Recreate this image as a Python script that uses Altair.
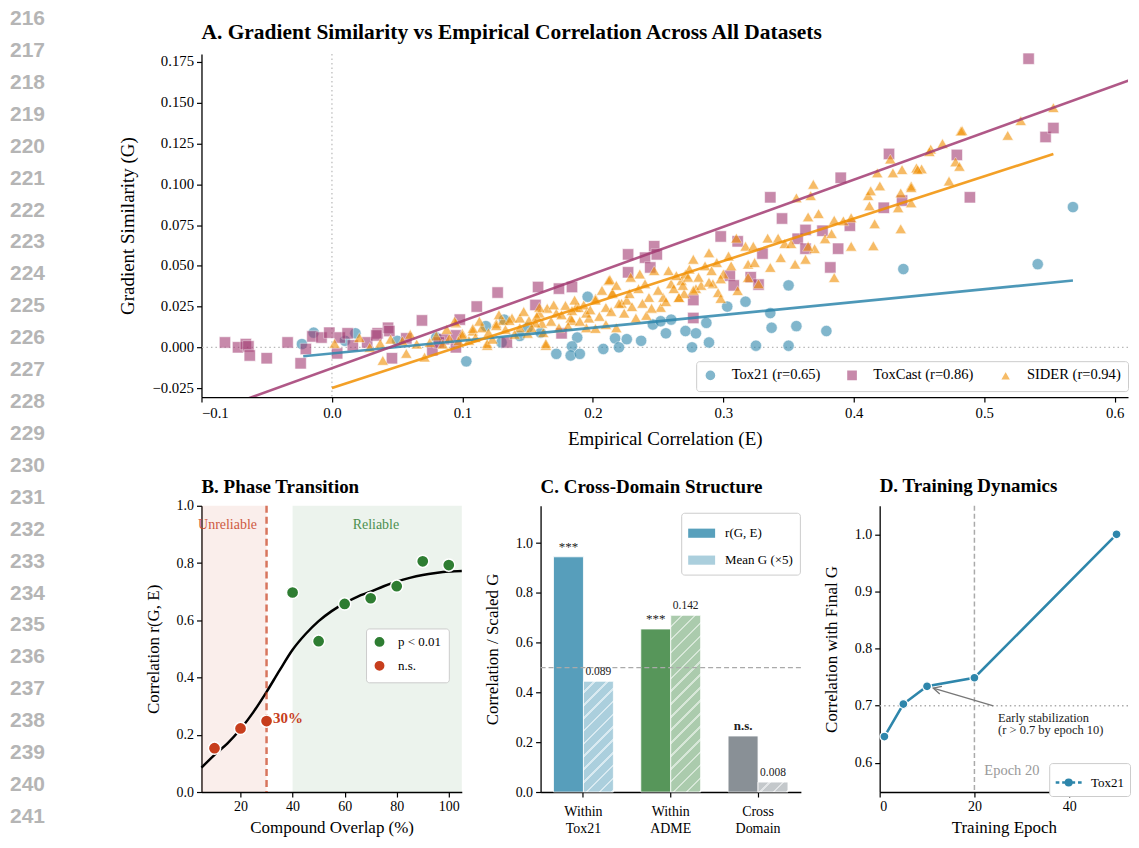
import math
import altair as alt
import pandas as pd

SERIF = "Liberation Serif"
SANS = "Liberation Sans"

# ---------------- line numbers (page margin) ----------------
line_numbers = list(range(216, 243))

# ---------------- Panel A data ----------------
series_names = ["Tox21 (r=0.65)", "ToxCast (r=0.86)", "SIDER (r=0.94)"]
series_colors = ["#2E86AB", "#A23B72", "#F18F01"]

tox21_E = [-0.023, -0.014, 0.018, 0.010, 0.05, 0.08, 0.103, 0.118, 0.132, 0.130, 0.144, 0.15, 0.16,
           0.196, 0.188, 0.184, 0.172, 0.183, 0.190, 0.208, 0.217, 0.220, 0.226, 0.237, 0.246, 0.252,
           0.256, 0.260, 0.271, 0.276, 0.279, 0.289, 0.287, 0.303, 0.317, 0.336, 0.337, 0.350, 0.356,
           0.379, 0.325, 0.350, 0.438, 0.541, 0.568]
tox21_G = [0.002, 0.009, 0.0086, 0.004, 0.004, 0.006, -0.0086, 0.013, 0.017, 0.003, 0.007, 0.012, 0.009,
           0.031, 0.006, 0.0006, -0.004, -0.005, -0.004, -0.001, 0.0055, 0.0, 0.005, 0.004, 0.014, 0.016,
           0.0086, 0.017, 0.010, 0.0, 0.0086, 0.003, 0.015, 0.025, 0.028, 0.021, 0.012, 0.038, 0.013,
           0.010, 0.001, 0.001, 0.048, 0.051, 0.086]

toxcast_E = [-0.082, -0.072, -0.066, -0.064, -0.063, -0.050, -0.034, -0.024, -0.020, -0.015, -0.008,
             -0.002, 0.004, 0.006, 0.012, 0.016, 0.027, 0.035, 0.043, 0.046, 0.057, 0.069, 0.077, 0.086,
             0.095, 0.098, 0.111, 0.127, 0.158, 0.174, 0.184, 0.156, 0.176, 0.134, 0.044, 0.034, 0.095,
             0.082, 0.227, 0.227, 0.247, 0.249, 0.240, 0.244, 0.277, 0.277, 0.298, 0.311, 0.336, 0.345,
             0.305, 0.321, 0.308, 0.327, 0.330, 0.357, 0.363, 0.363, 0.376, 0.397, 0.388, 0.382, 0.390,
             0.423, 0.437, 0.427, 0.479, 0.489, 0.534, 0.547, 0.553]
toxcast_G = [0.003, 0.0, 0.002, 0.0006, -0.005, -0.0067, 0.003, -0.0098, -0.001, 0.0067, 0.006,
             0.009, -0.0037, 0.006, 0.0086, 0.0012, 0.003, 0.0086, 0.012, -0.0067, 0.0055, 0.0165, -0.0018, 0.005,
             0.0073, 0.017, 0.025, 0.0336, 0.037, 0.036, 0.037, 0.026, 0.0086, 0.003, 0.010, 0.0073, 0.0,
             0.003, 0.057, 0.046, 0.062, 0.057, 0.055, 0.049, 0.029, 0.018, 0.068, 0.065, 0.092, 0.079,
             0.044, 0.043, 0.038, 0.0385, 0.0575, 0.0666, 0.072, 0.0605, 0.0715, 0.0746, 0.0605, 0.049, 0.104,
             0.0856, 0.090, 0.1186, 0.118, 0.092, 0.177, 0.129, 0.1345]

sider_E = [0.002, 0.021, 0.039, 0.057, 0.071, 0.054, 0.037, 0.029, 0.075, 0.095, 0.090, 0.100, 0.108,
           0.115, 0.119, 0.126, 0.131, 0.138, 0.144, 0.151, 0.159, 0.164, 0.179, 0.187, 0.202, 0.212,
           0.215, 0.222, 0.184, 0.197, 0.161, 0.105,
           0.094, 0.100, 0.108, 0.119, 0.126, 0.136, 0.150, 0.156, 0.165, 0.164, 0.172, 0.183, 0.189,
           0.195, 0.202, 0.210, 0.213, 0.215, 0.220, 0.226, 0.229, 0.233, 0.235, 0.236, 0.241, 0.243,
           0.247, 0.252, 0.254, 0.258, 0.260, 0.266, 0.268, 0.271, 0.277, 0.279, 0.195, 0.202, 0.218,
           0.184, 0.174, 0.144, 0.159,
           0.045, 0.06, 0.065, 0.08, 0.085, 0.088, 0.097, 0.11, 0.113, 0.12, 0.123, 0.128, 0.133, 0.14,
           0.147, 0.153, 0.157, 0.162, 0.168, 0.17, 0.176, 0.181, 0.186, 0.19, 0.193, 0.198, 0.205, 0.207,
           0.21, 0.214, 0.218, 0.224, 0.228, 0.23, 0.238, 0.24, 0.245, 0.25, 0.256, 0.262, 0.264, 0.27,
           0.274, 0.283, 0.286, 0.292, 0.295, 0.3, 0.306,
           0.289, 0.291, 0.298, 0.304, 0.310, 0.311, 0.317, 0.319, 0.323, 0.324, 0.327, 0.334, 0.336,
           0.342, 0.344, 0.347, 0.352, 0.355, 0.356, 0.363, 0.365, 0.369, 0.367, 0.370, 0.373, 0.378,
           0.383, 0.385, 0.392, 0.398, 0.398, 0.411, 0.412, 0.413, 0.416, 0.415, 0.418, 0.420, 0.428,
           0.430, 0.434, 0.436, 0.436, 0.444, 0.444, 0.448, 0.452, 0.459, 0.385, 0.365, 0.319, 0.296,
           0.289, 0.269, 0.277, 0.273, 0.281, 0.266, 0.298,
           0.437, 0.449, 0.444, 0.473, 0.458, 0.468, 0.482, 0.483, 0.478, 0.481, 0.518, 0.528, 0.553]
sider_G = [0.0024, 0.006, -0.008, -0.0037, -0.006, 0.004, 0.0024, 0.0, 0.003, 0.015, 0.0055, 0.0086, 0.010,
           0.012, 0.0012, 0.0147, 0.0165, 0.018, 0.018, 0.0165, 0.021, 0.0012, 0.0257, 0.0245, 0.030, 0.041,
           0.033, 0.027, 0.0165, 0.018, 0.0147, 0.0043,
           0.016, 0.0073, 0.0116, 0.0024, 0.0134, 0.0165, 0.0086, 0.015, 0.024, 0.0024, 0.021, 0.018, 0.0245,
           0.021, 0.029, 0.0245, 0.0416, 0.0336, 0.027, 0.029, 0.043, 0.018, 0.036, 0.045, 0.0196, 0.0306,
           0.047, 0.0245, 0.0306, 0.047, 0.039, 0.0306, 0.041, 0.045, 0.054, 0.036, 0.012, 0.0116, 0.012,
           0.0226, 0.012, 0.012, 0.0245,
           0.005, 0.008, 0.002, 0.007, 0.002, 0.011, 0.004, 0.006, 0.016, 0.009, 0.005, 0.02, 0.011, 0.008,
           0.022, 0.012, 0.019, 0.009, 0.016, 0.026, 0.02, 0.013, 0.029, 0.016, 0.026, 0.023, 0.019, 0.035,
           0.014, 0.022, 0.038, 0.021, 0.033, 0.025, 0.027, 0.039, 0.024, 0.035, 0.028, 0.036, 0.044, 0.033,
           0.048, 0.038, 0.05, 0.039, 0.052, 0.045, 0.05,
           0.058, 0.047, 0.042, 0.056, 0.067, 0.0348, 0.062, 0.051, 0.062, 0.052, 0.039, 0.067, 0.049,
           0.067, 0.055, 0.0636, 0.0636, 0.051, 0.0917, 0.054, 0.080, 0.100, 0.093, 0.0605, 0.082, 0.0666,
           0.0697, 0.078, 0.0776, 0.062, 0.0795, 0.093, 0.0868, 0.096, 0.0758, 0.0623, 0.107, 0.099, 0.1155,
           0.107, 0.0856, 0.0727, 0.0947, 0.099, 0.0886, 0.110, 0.1094, 0.1216, 0.0428, 0.062, 0.0428, 0.0336,
           0.040, 0.038, 0.035, 0.043, 0.043, 0.0306, 0.030,
           0.109, 0.109, 0.098, 0.102, 0.120, 0.125, 0.1326, 0.133, 0.1137, 0.111, 0.130, 0.139, 0.147]

# regression lines (start / end points)
fit_E0 = [-0.022, -0.1, 0.0]
fit_G0 = [-0.0055, -0.0417, -0.0249]
fit_E1 = [0.568, 0.617, 0.553]
fit_G1 = [0.041, 0.1655, 0.1186]

# ---------------- Panel B data ----------------
overlap = [10, 20, 30, 40, 50, 60, 70, 80, 90, 100]
overlap_r = [0.153, 0.222, 0.248, 0.697, 0.527, 0.657, 0.677, 0.719, 0.806, 0.793]
overlap_sig = ["n.s.", "n.s.", "n.s.", "p < 0.01", "p < 0.01", "p < 0.01", "p < 0.01", "p < 0.01",
               "p < 0.01", "p < 0.01"]
curve_x = [5, 10, 15, 20, 25, 30, 35, 40, 45, 50, 55, 60, 65, 70, 75, 80, 85, 90, 95, 100, 105]
curve_y = [0.085, 0.13, 0.17, 0.22, 0.28, 0.35, 0.425, 0.497, 0.552, 0.597, 0.632, 0.66, 0.683, 0.70,
           0.719, 0.735, 0.748, 0.758, 0.765, 0.77, 0.772]
zone_start = [5, 40]
zone_end = [30, 105]
zone_color = ["#C73E1D", "#2E7D32"]
threshold = 30

# ---------------- Panel C data ----------------
c_categories = ["Within Tox21", "Within ADME", "Cross Domain"]
c_r = [0.945, 0.655, 0.225]
c_meanG = [0.089, 0.142, 0.008]
c_sig = ["***", "***", "n.s."]
c_colors = ["#2E86AB", "#2E7D32", "#6C757D"]
c_hatch_base = ["#abcfdd", "#abcbad", "#c4c8cb"]
c_hatch_line = ["#d9eaf1", "#d7e7d8", "#e3e5e7"]
c_scale = 5

# ---------------- Panel D data ----------------
epochs = [1, 5, 10, 20, 50]
epoch_corr = [0.646, 0.703, 0.734, 0.749, 1.0]

# ======================================================================
A_W, A_H = 929, 344
P_H = 287
TOP_GAP = 45          # from top of page content to top of panel A plot
LN_H = 832            # height of the line-number column (page y 8 .. 840)

# ---- Panel A
rows = []
for name, Es, Gs in zip(series_names, [tox21_E, toxcast_E, sider_E], [tox21_G, toxcast_G, sider_G]):
    for e, g in zip(Es, Gs):
        rows.append({"dataset": name, "E": e, "G": g})
dfA = pd.DataFrame(rows)

fit_rows = []
for i, name in enumerate(series_names):
    fit_rows.append({"dataset": name, "E": fit_E0[i], "G": fit_G0[i], "col": series_colors[i]})
    fit_rows.append({"dataset": name, "E": fit_E1[i], "G": fit_G1[i], "col": series_colors[i]})
dfFit = pd.DataFrame(fit_rows)

MINUS = "\u2212"
xA = alt.X("E:Q", scale=alt.Scale(domain=[-0.1, 0.6102], nice=False, zero=False),
           axis=alt.Axis(values=[-0.1, 0.0, 0.1, 0.2, 0.3, 0.4, 0.5, 0.6],
                         labelExpr=f"replace(format(datum.value, '.1f'), '-', '{MINUS}')",
                         title="Empirical Correlation (E)", titleFontSize=19, labelFontSize=14.8,
                         titlePadding=10))
yA = alt.Y("G:Q", scale=alt.Scale(domain=[-0.0305, 0.1799], nice=False, zero=False),
           axis=alt.Axis(values=[-0.025, 0.0, 0.025, 0.05, 0.075, 0.1, 0.125, 0.15, 0.175],
                         labelExpr=f"replace(format(datum.value, '.3f'), '-', '{MINUS}')",
                         title="Gradient Similarity (G)", titleFontSize=19, labelFontSize=14.8,
                         titlePadding=15))

zeroA = pd.DataFrame({"E": [0.0], "G": [0.0]})
refH = alt.Chart(zeroA).mark_rule(color="#b8b8b8", strokeDash=[1.5, 3], strokeWidth=1.2).encode(y=yA)
refV = alt.Chart(zeroA).mark_rule(color="#b8b8b8", strokeDash=[1.5, 3], strokeWidth=1.2).encode(x=xA)

legA = alt.Legend(title=None, orient="none", legendX=496, legendY=308, direction="horizontal",
                  fillColor="white", strokeColor="#cccccc", cornerRadius=3, padding=7, gridAlign="none",
                  labelFont=SERIF, labelFontSize=14.6, labelColor="black", symbolSize=125,
                  symbolOpacity=0.6, columnPadding=22, labelOffset=14)
ptsA = alt.Chart(dfA).mark_point(filled=True, size=130, opacity=0.6, stroke="white", strokeWidth=0.6).encode(
    x=xA, y=yA,
    color=alt.Color("dataset:N", scale=alt.Scale(domain=series_names, range=series_colors), legend=legA),
    shape=alt.Shape("dataset:N", scale=alt.Scale(domain=series_names, range=["circle", "square", "triangle-up"]),
                    legend=legA),
)
fitA = alt.Chart(dfFit).mark_line(strokeWidth=2.6, opacity=0.85, clip=True).encode(
    x=xA, y=yA, detail="dataset:N", stroke=alt.Stroke("col:N", scale=None))

A = alt.layer(refH, refV, ptsA, fitA).properties(
    width=A_W, height=A_H,
    title=alt.TitleParams("A. Gradient Similarity vs Empirical Correlation Across All Datasets", fontSize=21.5,
                          offset=8))

# ---- Panel B
xB = alt.X("x:Q", scale=alt.Scale(domain=[5, 105], nice=False, zero=False),
           axis=alt.Axis(values=[20, 40, 60, 80, 100], title="Compound Overlap (%)"))
yB = alt.Y("y:Q", scale=alt.Scale(domain=[0, 1], nice=False),
           axis=alt.Axis(values=[0, 0.2, 0.4, 0.6, 0.8, 1.0], format=".1f", title="Correlation r(G, E)"))

dfZone = pd.DataFrame({"x": zone_start, "x2": zone_end, "y": [0, 0], "y2": [1, 1], "col": zone_color})
zones = alt.Chart(dfZone).mark_rect(opacity=0.09).encode(
    x=xB, x2="x2:Q", y=yB, y2="y2:Q", fill=alt.Fill("col:N", scale=None))
dfCurve = pd.DataFrame({"x": curve_x, "y": curve_y})
curve = alt.Chart(dfCurve).mark_line(color="black", strokeWidth=2.5, interpolate="monotone").encode(x=xB, y=yB)
dfThr = pd.DataFrame({"x": [threshold]})
thr = alt.Chart(dfThr).mark_rule(color="#C73E1D", opacity=0.7, strokeDash=[7, 4], strokeWidth=2.5).encode(x=xB)
dfPtsB = pd.DataFrame({"x": overlap, "y": overlap_r, "sig": overlap_sig})
legB = alt.Legend(title=None, orient="none", legendX=165, legendY=123, fillColor="white", strokeColor="#cccccc",
                  cornerRadius=3, padding=7, labelFont=SERIF, labelFontSize=13, labelColor="black",
                  symbolSize=130, symbolOpacity=1, rowPadding=5, labelOffset=12)
ptsB = alt.Chart(dfPtsB).mark_circle(size=150, opacity=1, stroke="white", strokeWidth=1.5).encode(
    x=xB, y=yB,
    color=alt.Color("sig:N", scale=alt.Scale(domain=["p < 0.01", "n.s."], range=["#2E7D32", "#C73E1D"]),
                    legend=legB))
dfLabB = pd.DataFrame({"x": [15, 72], "y": [0.934, 0.934], "t": ["Unreliable", "Reliable"],
                       "col": ["#C73E1D", "#2E7D32"]})
labB = alt.Chart(dfLabB).mark_text(font=SERIF, fontSize=14, opacity=0.85, baseline="middle").encode(
    x=xB, y=yB, text="t:N", color=alt.Color("col:N", scale=None))
dfThrLab = pd.DataFrame({"x": [32.5], "y": [0.259], "t": ["30%"]})
thrLab = alt.Chart(dfThrLab).mark_text(font=SERIF, fontSize=15, fontWeight="bold", color="#C73E1D",
                                       align="left", baseline="middle").encode(x=xB, y=yB, text="t:N")

B = alt.layer(zones, curve, thr, ptsB, labB, thrLab).properties(
    width=261, height=P_H, title=alt.TitleParams("B. Phase Transition", offset=2))

# ---- Panel C
C_W = 261
C_YMAX = 1.15
C_PI, C_PO = 0.314, 0.148
crow = []
for i, cat in enumerate(c_categories):
    crow.append({"cat": cat, "m": "r", "v": c_r[i], "col": c_colors[i], "op": 0.8,
                 "lab": c_sig[i], "bold": c_sig[i] == "n.s."})
    crow.append({"cat": cat, "m": "g", "v": c_meanG[i] * c_scale, "col": c_colors[i], "op": 0.4,
                 "lab": f"{c_meanG[i]:.3f}", "bold": False})
dfC = pd.DataFrame(crow)
xC = alt.X("cat:N", sort=c_categories, scale=alt.Scale(paddingInner=C_PI, paddingOuter=C_PO),
           axis=alt.Axis(labelExpr="split(datum.label, ' ')", title=None, labelAngle=0, bandPosition=0.5,
                         labelPadding=8, labelLineHeight=17))
xoC = alt.XOffset("m:N", sort=["r", "g"], scale=alt.Scale(paddingInner=0, paddingOuter=0))
yC = alt.Y("v:Q", scale=alt.Scale(domain=[0, C_YMAX], nice=False),
           axis=alt.Axis(values=[0, 0.2, 0.4, 0.6, 0.8, 1.0], format=".1f", title="Correlation / Scaled G"))
barsR = alt.Chart(dfC).transform_filter("datum.m == 'r'").mark_bar(stroke="white", strokeWidth=0.8).encode(
    x=xC, xOffset=xoC, y=yC, fill=alt.Fill("col:N", scale=None), opacity=alt.Opacity("op:Q", scale=None))


def hatch_fill(value, base, line, spacing=9.4, frac=0.2):
    """Diagonal '//' hatch emulated with a hard-stop linear gradient over the bar's box."""
    step = C_W / (len(c_categories) - C_PI + 2 * C_PO)
    w = step * (1 - C_PI) / 2.0
    h = max(value * P_H / C_YMAX, 1.0)
    c = (w + h) * h / (h * h + w * w)
    n = max(1, round((w + h) / math.sqrt(2) / spacing))
    stops = []
    for k in range(n):
        a = k / n
        b = (k + 1 - frac) / n
        e = (k + 1) / n
        stops += [alt.GradientStop(offset=a, color=base), alt.GradientStop(offset=b, color=base),
                  alt.GradientStop(offset=b, color=line), alt.GradientStop(offset=e, color=line)]
    return alt.LinearGradient(gradient="linear", stops=stops, x1=0, y1=0, x2=c * w / h, y2=c)


hatch_layers = []
for i, cat in enumerate(c_categories):
    hatch_layers.append(
        alt.Chart(dfC).transform_filter(f"datum.m == 'g' && datum.cat == '{cat}'").mark_bar(
            stroke="white", strokeWidth=0.8,
            fill=hatch_fill(c_meanG[i] * c_scale, c_hatch_base[i], c_hatch_line[i])).encode(
            x=xC, xOffset=xoC, y=yC))

refC = alt.Chart(pd.DataFrame({"v": [0.5]})).mark_rule(color="#aaaaaa", strokeDash=[5, 3], strokeWidth=1.3).encode(y=yC)
txtC_star = alt.Chart(dfC).transform_filter("datum.m == 'r' && !datum.bold").mark_text(
    font=SERIF, fontSize=13, baseline="bottom", dy=-3, color="#222").encode(x=xC, xOffset=xoC, y=yC, text="lab:N")
txtC_ns = alt.Chart(dfC).transform_filter("datum.bold").mark_text(
    font=SERIF, fontSize=13, fontWeight="bold", baseline="bottom", dy=-3, color="#222").encode(
    x=xC, xOffset=xoC, y=yC, text="lab:N")
txtC_val = alt.Chart(dfC).transform_filter("datum.m == 'g'").mark_text(
    font=SERIF, fontSize=11.5, baseline="bottom", dy=-4, color="#222").encode(x=xC, xOffset=xoC, y=yC, text="lab:N")
legC = alt.Legend(title=None, orient="none", legendX=141, legendY=7, fillColor="white", strokeColor="#cccccc",
                  cornerRadius=3, padding=7, labelFont=SERIF, labelFontSize=13, labelColor="black",
                  symbolType="M-1,-0.34H1V0.34H-1Z", symbolSize=729, symbolOpacity=1, symbolStrokeWidth=0,
                  rowPadding=6, labelOffset=10)
dfLegC = pd.DataFrame({"lab": ["r(G, E)", "Mean G (\u00d75)"]})
legLayerC = alt.Chart(dfLegC).mark_square(opacity=0, size=1).encode(
    color=alt.Color("lab:N", scale=alt.Scale(domain=["r(G, E)", "Mean G (\u00d75)"], range=["#58a0bc", "#abcfdd"]),
                    legend=legC))
C = alt.layer(barsR, *hatch_layers, refC, txtC_star, txtC_ns, txtC_val, legLayerC).properties(
    width=C_W, height=P_H, title=alt.TitleParams("C. Cross-Domain Structure"))

# ---- Panel D
D_W = 249
xD = alt.X("ep:Q", scale=alt.Scale(domain=[0, D_W / 4.75], nice=False, zero=False),
           axis=alt.Axis(values=[0, 20, 40], title="Training Epoch"))
yD = alt.Y("c:Q", scale=alt.Scale(domain=[0.549, 1.05], nice=False, zero=False),
           axis=alt.Axis(values=[0.6, 0.7, 0.8, 0.9, 1.0], format=".1f", title="Correlation with Final G"))
dfD = pd.DataFrame({"ep": epochs, "c": epoch_corr, "s": ["Tox21"] * len(epochs)})
vD = alt.Chart(pd.DataFrame({"ep": [20]})).mark_rule(color="#aaaaaa", strokeDash=[5, 3], strokeWidth=1.5).encode(x=xD)
hD = alt.Chart(pd.DataFrame({"c": [0.7]})).mark_rule(color="#aaaaaa", strokeDash=[1.5, 3], strokeWidth=1.3).encode(y=yD)
lineD = alt.Chart(dfD).mark_line(color="#2E86AB", strokeWidth=2.6).encode(x=xD, y=yD)
legD = alt.Legend(title=None, orient="none", legendX=170, legendY=258, fillColor="white", strokeColor="#cccccc",
                  cornerRadius=3, padding=5, labelFont=SERIF, labelFontSize=13, labelColor="black",
                  symbolType="M-1,0H-0.72M-0.5,0H-0.25M0.25,0H0.5M0.72,0H1M0.22,0A0.22,0.22,0,1,1,-0.22,0A0.22,0.22,0,1,1,0.22,0Z",
                  symbolSize=676, symbolOpacity=1, symbolStrokeColor="#2E86AB", symbolStrokeWidth=2.4,
                  labelOffset=8)
ptsD = alt.Chart(dfD).mark_circle(size=80, opacity=1, stroke="white", strokeWidth=1.2).encode(
    x=xD, y=yD, color=alt.Color("s:N", scale=alt.Scale(domain=["Tox21"], range=["#2E86AB"]), legend=legD))
arrow_from = (24.0, 0.6996)
arrow_to = (11.3, 0.731)
dfArr = pd.DataFrame({"ep": [arrow_from[0]], "c": [arrow_from[1]], "ep2": [arrow_to[0]], "c2": [arrow_to[1]]})
arrD = alt.Chart(dfArr).mark_rule(color="#777777", strokeWidth=1.3).encode(x=xD, y=yD, x2="ep2:Q", y2="c2:Q")
dfHead = pd.DataFrame({"ep": [arrow_to[0]], "c": [arrow_to[1]]})
headD = alt.Chart(dfHead).mark_point(shape="M2,-1L0,0L2,1", size=64, angle=16, filled=False,
                                      color="#777777", strokeWidth=1.3, opacity=1).encode(x=xD, y=yD)
dfNote = pd.DataFrame({"ep": [25, 25], "c": [0.678, 0.657], "t": ["Early stabilization", "(r > 0.7 by epoch 10)"]})
noteD = alt.Chart(dfNote).mark_text(font=SERIF, fontSize=12.5, align="left", baseline="middle", color="#222").encode(
    x=xD, y=yD, text="t:N")
dfEp = pd.DataFrame({"ep": [22.1], "c": [0.586], "t": ["Epoch 20"]})
epD = alt.Chart(dfEp).mark_text(font=SERIF, fontSize=14.5, align="left", baseline="middle", color="#999999").encode(
    x=xD, y=yD, text="t:N")
D = alt.layer(vD, hD, lineD, arrD, headD, ptsD, noteD, epD).properties(
    width=D_W, height=P_H, title=alt.TitleParams("D. Training Dynamics"))

# ---- line numbers column (spans the whole page height, 32 px per line)
ln_top = 216 - 10 / 32.0
dfLN = pd.DataFrame({"n": [str(n) for n in line_numbers], "k": line_numbers, "c": [0] * len(line_numbers)})
LN = alt.Chart(dfLN).mark_text(align="left", baseline="middle", font=SANS, fontWeight="bold", fontSize=21,
                               color="#b5b5b5", clip=True).encode(
    x=alt.X("c:Q", scale=alt.Scale(domain=[0, 1]), axis=None),
    y=alt.Y("k:Q", scale=alt.Scale(domain=[ln_top, ln_top + LN_H / 32.0], reverse=True, nice=False, zero=False),
            axis=None),
    text="n:N").properties(width=40, height=LN_H)

spacer = alt.Chart(pd.DataFrame({"s": [0]})).mark_point(opacity=0).encode(
    x=alt.X("s:Q", axis=None), y=alt.Y("s:Q", axis=None)).properties(width=A_W, height=TOP_GAP)

IND = dict(color="independent", shape="independent", x="independent", y="independent")
IND_L = dict(color="independent", shape="independent")
bottom = alt.hconcat(B, C, D, spacing=79, bounds="flush").resolve_scale(**IND).resolve_legend(**IND_L)
panels = alt.vconcat(A, bottom, spacing=109, bounds="flush").resolve_scale(**IND).resolve_legend(**IND_L)
right = alt.vconcat(spacer, panels, spacing=0, bounds="flush").resolve_scale(**IND).resolve_legend(**IND_L)
chart = alt.hconcat(LN, right, spacing=152, bounds="flush").resolve_scale(**IND).resolve_legend(**IND_L).properties(
    padding={"left": 2, "top": 0, "right": 0, "bottom": 0}
).configure_view(stroke=None).configure_axis(
    domainColor="black", tickColor="black", labelColor="black", titleColor="black",
    labelFont=SERIF, titleFont=SERIF, labelFontSize=14, titleFontSize=17, titleFontWeight="normal",
    grid=False, tickSize=5, domainWidth=1.3, tickWidth=1.2, labelPadding=3, titlePadding=8
).configure_axisY(titlePadding=14).configure_axisX(titlePadding=6).configure_title(
    font=SERIF, fontSize=19, fontWeight="bold", anchor="start", frame="group", offset=9, color="black"
).configure_legend(labelFont=SERIF)

chart.save("out.html", embed_options={"renderer": "svg", "actions": False})
